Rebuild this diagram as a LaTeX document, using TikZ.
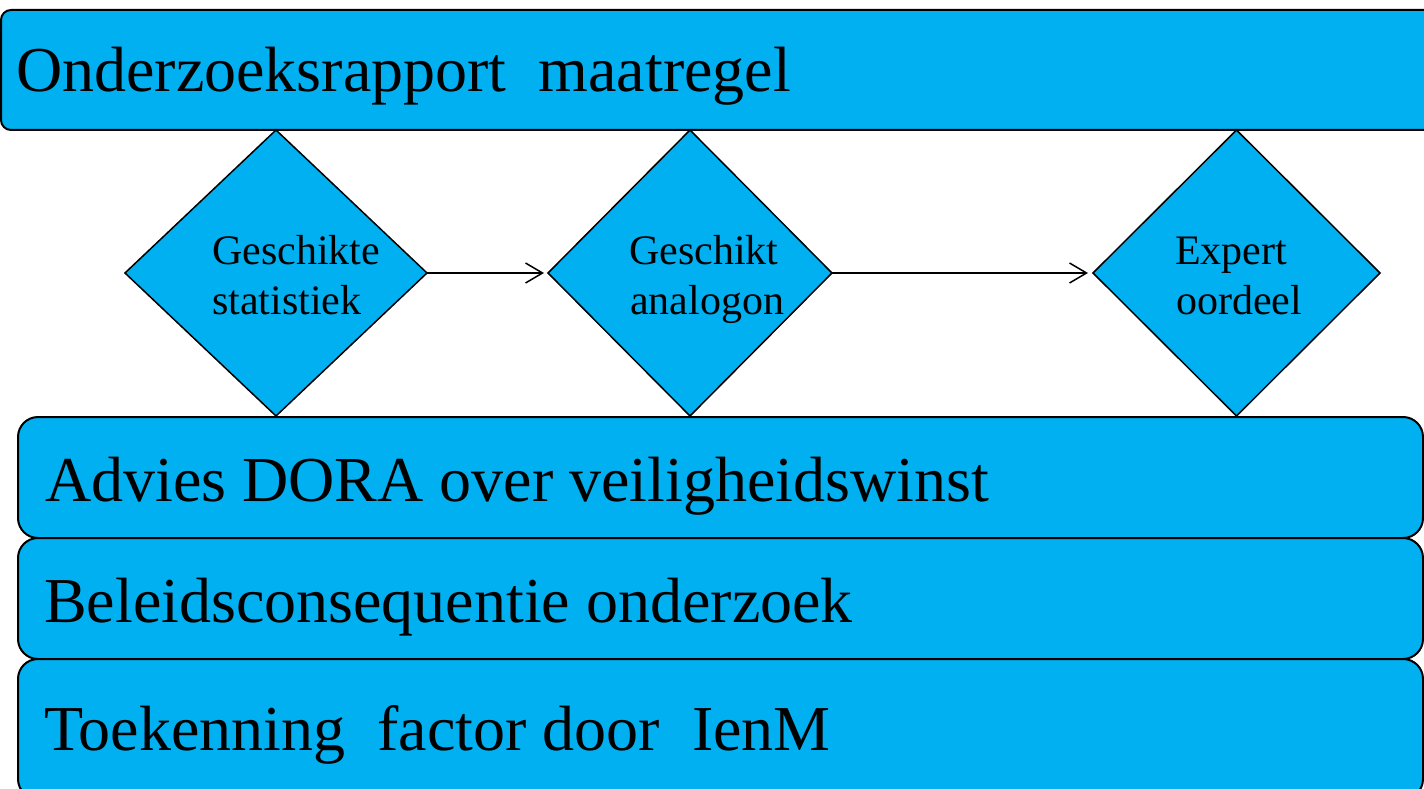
\documentclass[tikz,border=0pt]{standalone}
\usepackage{fontspec}
\setmainfont{Liberation Serif}
\usetikzlibrary{shapes.geometric,arrows.meta}
\definecolor{fillblue}{HTML}{00B0F0}
\begin{document}
\begin{tikzpicture}[x=1pt,y=-1pt,
  bar/.style={draw=black, line width=2pt, fill=fillblue, rounded corners=#1,
    inner sep=0pt, outer sep=0pt, anchor=north west},
  dmd/.style={draw=black, line width=1.5pt, fill=fillblue, shape=diamond,
    inner sep=0pt, outer sep=0pt, minimum height=286pt},
  bigtext/.style={inner sep=0pt, anchor=base west, font=\fontsize{64}{77}\selectfont},
  smalltext/.style={inner sep=0pt, anchor=base west, font=\fontsize{42}{50}\selectfont},
  flow/.style={draw=black, line width=1.5pt, -{Straight Barb[length=17pt,width=20pt,line width=1.5pt]}}
]
\useasboundingbox (0,0) rectangle (1424,789);

% top bar
\node[bar=10pt, minimum width=1460pt, minimum height=120pt] (top) at (1,10) {};
\node[bigtext] (toptxt) at (16,92) {Onderzoeksrapport\ \ maatregel};

% bottom bars
\node[bar=20pt, minimum width=1405pt, minimum height=121pt] (b1) at (18,417) {};
\node[bar=20pt, minimum width=1405pt, minimum height=121pt] (b2) at (18,538) {};
\node[bar=20pt, minimum width=1405pt, minimum height=140pt] (b3) at (18,659) {};
\node[bigtext] (t1) at (45,501) {Advies DORA over veiligheidswinst};
\node[bigtext] (t2) at (44,622) {Beleidsconsequentie onderzoek};
\node[bigtext] (t3) at (44,750) {Toekenning\ \ factor door\ \ IenM};

% diamonds
\node[dmd, minimum width=302pt] (d1) at (276,273) {};
\node[dmd, minimum width=284pt] (d2) at (690,273) {};
\node[dmd, minimum width=287pt] (d3) at (1236.5,273) {};

\node[smalltext] (d1a) at (212,264) {Geschikte};
\node[smalltext] (d1b) at (212,314) {statistiek};
\node[smalltext] (d2a) at (629,264) {Geschikt};
\node[smalltext] (d2b) at (630,314) {analogon};
\node[smalltext] (d3a) at (1175,264) {Expert};
\node[smalltext] (d3b) at (1176,314) {oordeel};

% arrows
\draw[flow, shorten >=4pt] (d1.east) -- (d2.west);
\draw[flow, shorten >=5pt] (d2.east) -- (d3.west);
\end{tikzpicture}
\end{document}
